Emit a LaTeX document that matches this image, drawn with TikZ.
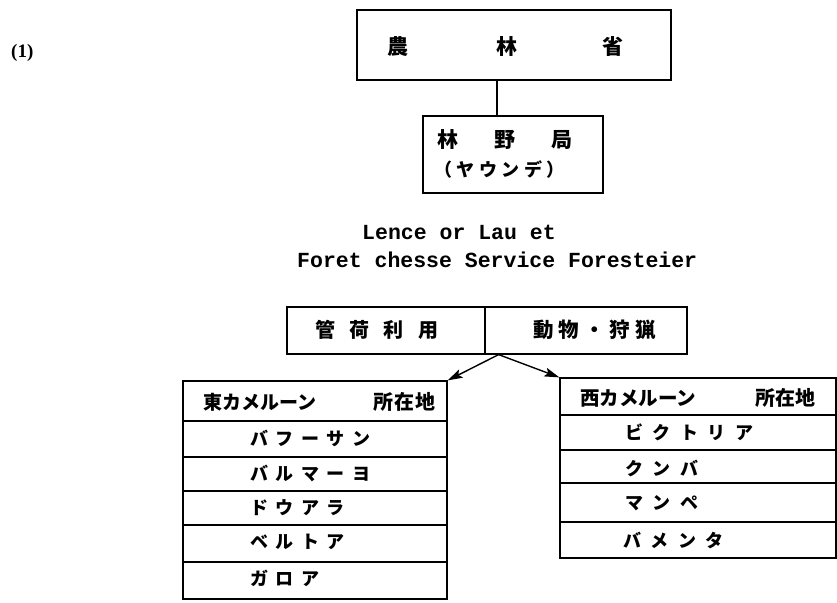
\documentclass[tikz,border=0pt]{standalone}
\usepackage{fontspec}
\usetikzlibrary{arrows.meta}
\newfontfamily\cjk{Noto Sans CJK JP}
\newfontfamily\monofam{Liberation Mono}
\newfontfamily\seriffam{Liberation Serif}
\makeatletter
\newcommand\spc[2]{\def\spc@gap{#1}\spc@aux#2\relax}
\def\spc@aux#1{\ifx\relax#1\else#1\hspace{\spc@gap}\expandafter\spc@aux\fi}
\makeatother
\newcommand\fs[1]{\fontsize{#1}{#1}\selectfont}
\tikzset{
  boxed/.style={draw, line width=1.2pt, inner sep=0pt},
  lbl/.style={inner sep=0pt, anchor=west},
  clbl/.style={inner sep=0pt},
  conn/.style={line width=1.2pt},
  arr/.style={line width=1.4pt, -{Stealth[length=15pt,width=9pt,inset=3pt]}}
}
\begin{document}
\begin{tikzpicture}[x=1pt,y=-1pt]
\useasboundingbox (0,0) rectangle (837,602);

\node[lbl] (num) at (11,53) {\seriffam\bfseries\fs{19}(1)};

% top boxes
\node[boxed, minimum width=314pt, minimum height=70pt] (nourin) at (514,45) {};
\node[clbl] (nourinT) at (505.5,47) {\cjk\bfseries\fs{21}農\hspace{88pt}林\hspace{85pt}省};
\node[boxed, minimum width=180pt, minimum height=77pt] (rinya) at (513,154.5) {};
\node[lbl] (rinyaT1) at (437.5,140) {\cjk\bfseries\fs{21}\spc{36pt}{林野局}};
\node[lbl] (rinyaT2) at (434,170) {\cjk\bfseries\fs{18}\spc{4.5pt}{（ヤウンデ）}};
\draw[conn] ([xshift=-17pt]nourin.south) -- ([xshift=-16pt]rinya.north);

% French text
\node[lbl] (fr1) at (362,232) {\monofam\bfseries\fs{21.5}Lence or Lau et};
\node[lbl] (fr2) at (297,260) {\monofam\bfseries\fs{21.5}Foret chesse Service Foresteier};

% header box
\node[boxed, minimum width=198pt, minimum height=47pt] (hdrL) at (386,330.5) {};
\node[boxed, minimum width=202pt, minimum height=47pt] (hdrR) at (586,330.5) {};
\node[lbl] (hdrLT) at (315,330) {\cjk\bfseries\fs{20}\spc{14.3pt}{管荷利用}};
\node[lbl] (hdrRT) at (533,330) {\cjk\bfseries\fs{20.5}\spc{5pt}{動物・狩猟}};
\coordinate (fork) at ([xshift=13pt]hdrL.south east);

% left table
\node[boxed, minimum width=264pt, minimum height=40pt] (Lh) at (315,401) {};
\node[boxed, minimum width=264pt, minimum height=36pt] (L1) at (315,439) {};
\node[boxed, minimum width=264pt, minimum height=34pt] (L2) at (315,474) {};
\node[boxed, minimum width=264pt, minimum height=34pt] (L3) at (315,508) {};
\node[boxed, minimum width=264pt, minimum height=37pt] (L4) at (315,543.5) {};
\node[boxed, minimum width=264pt, minimum height=37pt] (L5) at (315,580.5) {};
\node[lbl] (LhT1) at (203,402) {\cjk\bfseries\fs{19}東カメルーン};
\node[lbl] (LhT2) at (373,402) {\cjk\bfseries\fs{20}\spc{1pt}{所在地}};
\node[lbl] (L1T) at (250,438) {\cjk\bfseries\fs{18}\spc{7.5pt}{バフーサン}};
\node[lbl] (L2T) at (250,473) {\cjk\bfseries\fs{18}\spc{7.5pt}{バルマーヨ}};
\node[lbl] (L3T) at (250,508) {\cjk\bfseries\fs{18}\spc{7.5pt}{ドウアラ}};
\node[lbl] (L4T) at (250,542) {\cjk\bfseries\fs{18}\spc{7.5pt}{ベルトア}};
\node[lbl] (L5T) at (250,578) {\cjk\bfseries\fs{18}\spc{7.5pt}{ガロア}};

% right table
\node[boxed, minimum width=276pt, minimum height=37pt] (Rh) at (698,396.5) {};
\node[boxed, minimum width=276pt, minimum height=35pt] (R1) at (698,432.5) {};
\node[boxed, minimum width=276pt, minimum height=33pt] (R2) at (698,466.5) {};
\node[boxed, minimum width=276pt, minimum height=39pt] (R3) at (698,502.5) {};
\node[boxed, minimum width=276pt, minimum height=36pt] (R4) at (698,540) {};
\node[lbl] (RhT1) at (580,398) {\cjk\bfseries\fs{19.5}西カメルーン};
\node[lbl] (RhT2) at (755,398) {\cjk\bfseries\fs{20}所在地};
\node[lbl] (R1T) at (625,432) {\cjk\bfseries\fs{18}\spc{9.5pt}{ビクトリア}};
\node[lbl] (R2T) at (625,468) {\cjk\bfseries\fs{18}\spc{9.5pt}{クンバ}};
\node[lbl] (R3T) at (625,503) {\cjk\bfseries\fs{18}\spc{9.5pt}{マンペ}};
\node[lbl] (R4T) at (623,540) {\cjk\bfseries\fs{18}\spc{9.5pt}{バメンタ}};

% arrows
\draw[arr] (fork) -- (Lh.north east);
\draw[arr] (fork) -- (Rh.north west);
\end{tikzpicture}
\end{document}
